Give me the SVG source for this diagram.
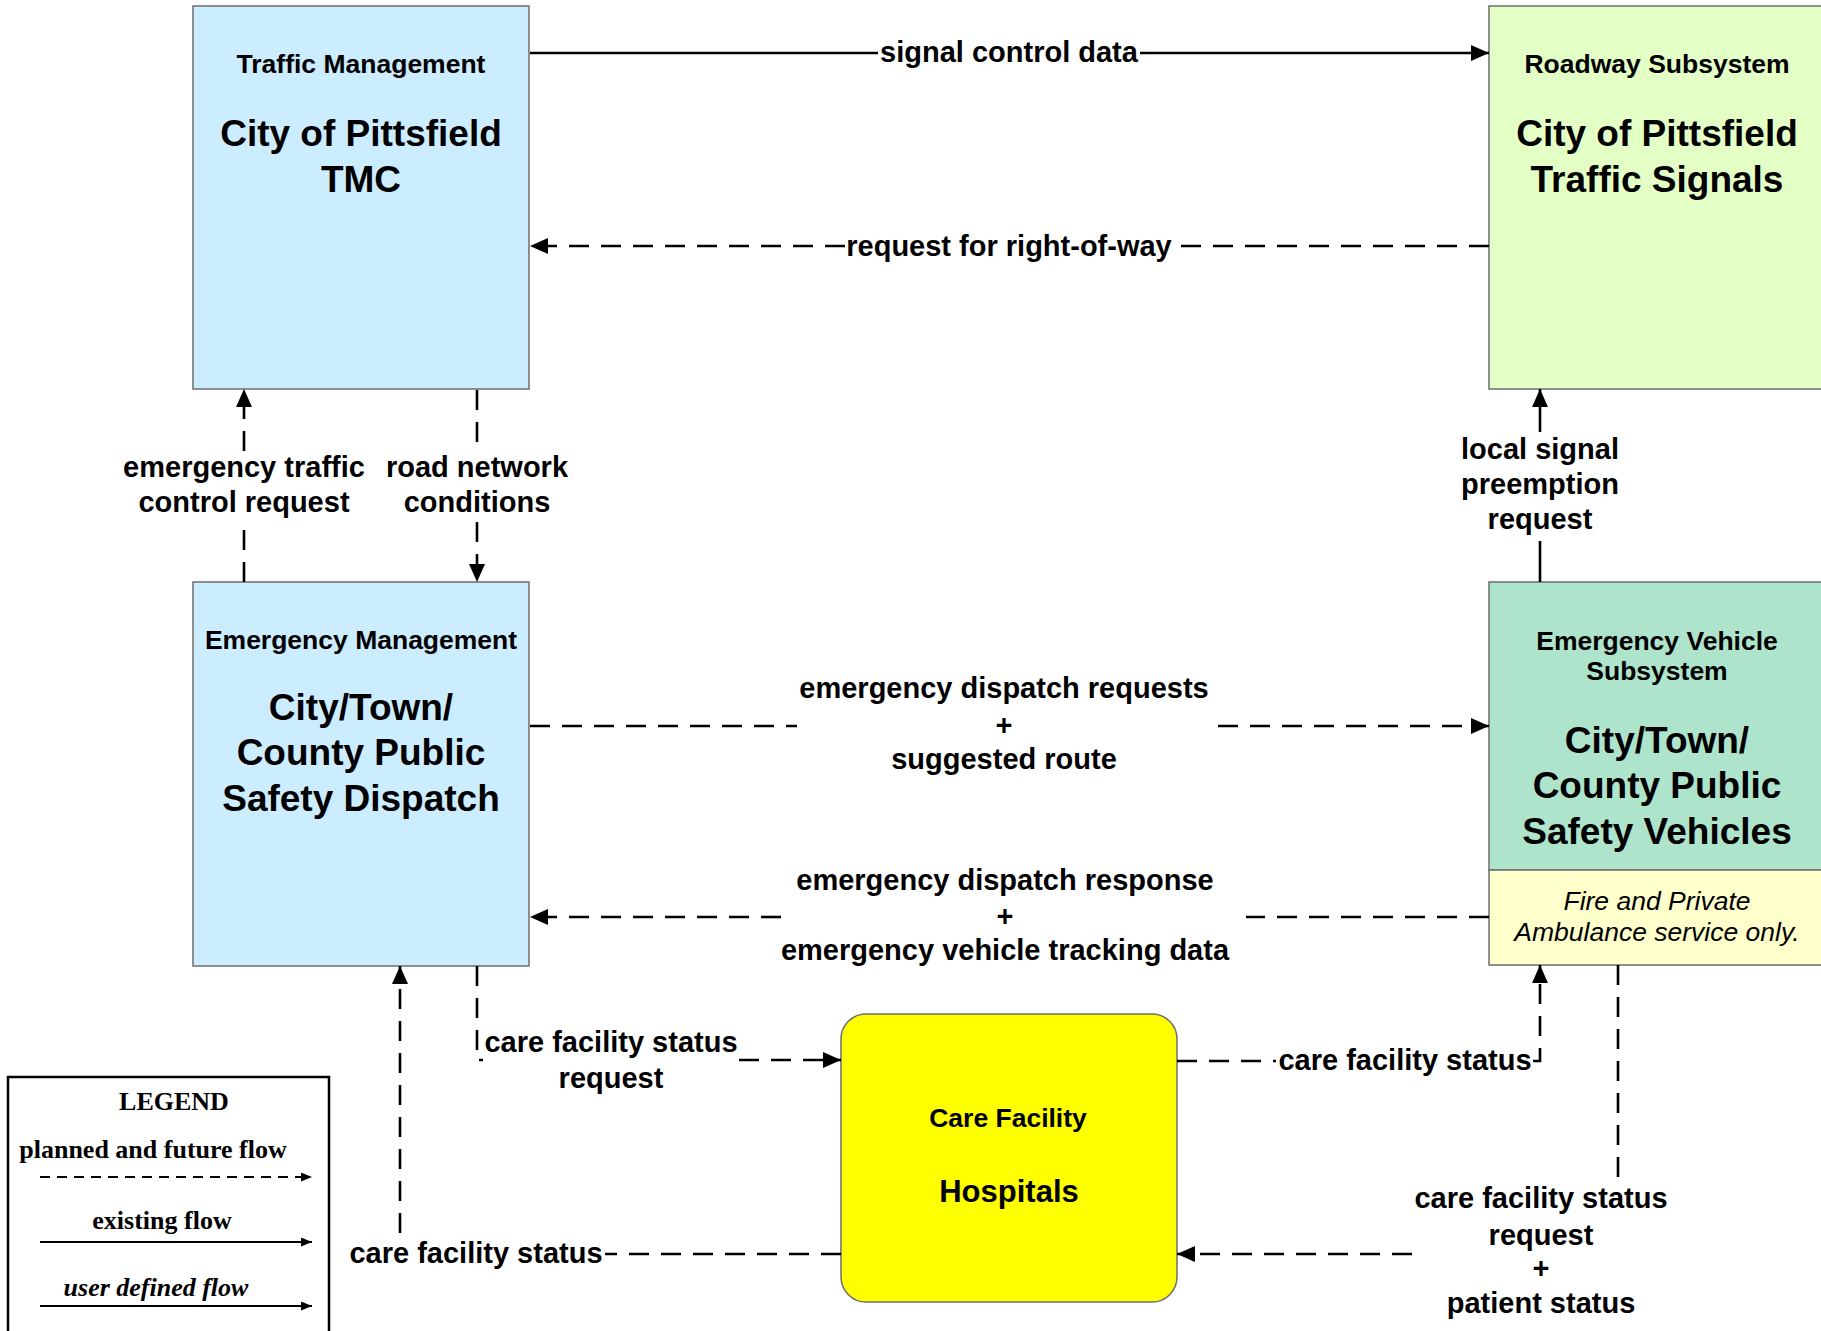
<svg xmlns="http://www.w3.org/2000/svg" width="1821" height="1331" viewBox="0 0 1821 1331">
<style>
.box{stroke:#6e6e6e;stroke-width:1.5}
text{font-family:"Liberation Sans",Arial,sans-serif;font-weight:bold;text-anchor:middle;fill:#000}
.hdr{font-size:26.5px}
.ttl{font-size:37px}
.hos{font-size:31px}
.lbl{font-size:29px}
.it{font-size:26.5px;font-weight:normal;font-style:italic}
.lg{font-family:"Liberation Serif","Times New Roman",serif;font-size:26px}
.lgi{font-style:italic}
.f{fill:none;stroke:#000;stroke-width:2.6}
.d{stroke-dasharray:20 12}
.lf{fill:none;stroke:#000;stroke-width:2}
</style>
<defs>
<marker id="ah" viewBox="0 0 18 16" refX="18" refY="8" markerWidth="18" markerHeight="16" markerUnits="userSpaceOnUse" orient="auto"><path d="M0,0 L18,8 L0,16 z" fill="#000"/></marker>
<marker id="ahs" viewBox="0 0 11 9" refX="11" refY="4.5" markerWidth="11" markerHeight="9" markerUnits="userSpaceOnUse" orient="auto"><path d="M0,0 L11,4.5 L0,9 z" fill="#000"/></marker>
</defs>
<rect x="0" y="0" width="1821" height="1331" fill="#fff"/>

<g id="tmc">
<rect class="box" x="193" y="6" width="336" height="383" fill="#CCECFF"/>
<text class="hdr" x="361" y="73">Traffic Management</text>
<text class="ttl" x="361" y="146">City of Pittsfield</text>
<text class="ttl" x="361" y="192">TMC</text>
</g>

<g id="roadway">
<rect class="box" x="1489" y="6" width="345" height="383" fill="#E3FFC6"/>
<text class="hdr" x="1657" y="73">Roadway Subsystem</text>
<text class="ttl" x="1657" y="146">City of Pittsfield</text>
<text class="ttl" x="1657" y="192">Traffic Signals</text>
</g>

<g id="emergency-management">
<rect class="box" x="193" y="582" width="336" height="384" fill="#CCECFF"/>
<text class="hdr" x="361" y="649">Emergency Management</text>
<text class="ttl" x="361" y="720">City/Town/</text>
<text class="ttl" x="361" y="765">County Public</text>
<text class="ttl" x="361" y="811">Safety Dispatch</text>
</g>

<g id="emergency-vehicle">
<rect class="box" x="1489" y="582" width="345" height="288" fill="#AEE4CB"/>
<rect class="box" x="1489" y="870" width="345" height="95" fill="#FFFFCC"/>
<text class="hdr" x="1657" y="650">Emergency Vehicle</text>
<text class="hdr" x="1657" y="680">Subsystem</text>
<text class="ttl" x="1657" y="753">City/Town/</text>
<text class="ttl" x="1657" y="798">County Public</text>
<text class="ttl" x="1657" y="844">Safety Vehicles</text>
<text class="it" x="1657" y="910">Fire and Private</text>
<text class="it" x="1657" y="941">Ambulance service only.</text>
</g>

<g id="care-facility">
<rect class="box" x="841" y="1014" width="336" height="288" rx="25" ry="25" fill="#FFFF00"/>
<text class="hdr" x="1008" y="1127">Care Facility</text>
<text class="hos" x="1009" y="1202">Hospitals</text>
</g>

<g id="connectors">
<path class="f" d="M530,53 H878"/>
<path class="f" d="M1140,53 H1489" marker-end="url(#ah)"/>
<text class="lbl" x="1009" y="62">signal control data</text>

<path class="f d" d="M1489,246 H1174"/>
<path class="f d" d="M845,246 H530" marker-end="url(#ah)"/>
<text class="lbl" x="1009" y="256">request for right-of-way</text>

<path class="f d" d="M244,582 V530"/>
<path class="f d" d="M244,451 V389" marker-end="url(#ah)"/>
<text class="lbl" x="244" y="477">emergency traffic</text>
<text class="lbl" x="244" y="512">control request</text>

<path class="f d" d="M477,390 V442"/>
<path class="f d" d="M477,522 V582" marker-end="url(#ah)"/>
<text class="lbl" x="477" y="477">road network</text>
<text class="lbl" x="477" y="512">conditions</text>

<path class="f" d="M1540,582 V541"/>
<path class="f" d="M1540,432 V389" marker-end="url(#ah)"/>
<text class="lbl" x="1540" y="459">local signal</text>
<text class="lbl" x="1540" y="494">preemption</text>
<text class="lbl" x="1540" y="529">request</text>

<path class="f d" d="M530,726 H797"/>
<path class="f d" d="M1218,726 H1489" marker-end="url(#ah)"/>
<text class="lbl" x="1004" y="698">emergency dispatch requests</text>
<text class="lbl" x="1004" y="735">+</text>
<text class="lbl" x="1004" y="769">suggested route</text>

<path class="f d" d="M1489,917 H1246"/>
<path class="f d" d="M781,917 H530" marker-end="url(#ah)"/>
<text class="lbl" x="1005" y="890">emergency dispatch response</text>
<text class="lbl" x="1005" y="926">+</text>
<text class="lbl" x="1005" y="960">emergency vehicle tracking data</text>

<path class="f d" d="M477,966 V1060 H483"/>
<path class="f d" d="M739,1060 H841" marker-end="url(#ah)"/>
<text class="lbl" x="611" y="1052">care facility status</text>
<text class="lbl" x="611" y="1088">request</text>

<path class="f d" d="M1177,1061 H1276"/>
<path class="f d" d="M1533,1061 H1540 V965" marker-end="url(#ah)"/>
<text class="lbl" x="1405" y="1070">care facility status</text>

<path class="f d" d="M841,1254 H605"/>
<path class="f d" d="M400,1233 V966" marker-end="url(#ah)"/>
<text class="lbl" x="476" y="1263">care facility status</text>

<path class="f d" d="M1618,965 V1178"/>
<path class="f d" d="M1412,1254 H1177" marker-end="url(#ah)"/>
<text class="lbl" x="1541" y="1208">care facility status</text>
<text class="lbl" x="1541" y="1245">request</text>
<text class="lbl" x="1541" y="1278">+</text>
<text class="lbl" x="1541" y="1313">patient status</text>
</g>

<g id="legend">
<rect x="8" y="1077" width="321" height="300" fill="#fff" stroke="#000" stroke-width="2.5"/>
<text class="lg" x="174" y="1110">LEGEND</text>
<text class="lg" x="153" y="1158">planned and future flow</text>
<path class="lf" d="M40,1177 H312" stroke-dasharray="10 7" marker-end="url(#ahs)"/>
<text class="lg" x="162" y="1229">existing flow</text>
<path class="lf" d="M40,1242 H312" marker-end="url(#ahs)"/>
<text class="lg lgi" x="156" y="1296">user defined flow</text>
<path class="lf" d="M40,1306 H312" marker-end="url(#ahs)"/>
</g>
</svg>
